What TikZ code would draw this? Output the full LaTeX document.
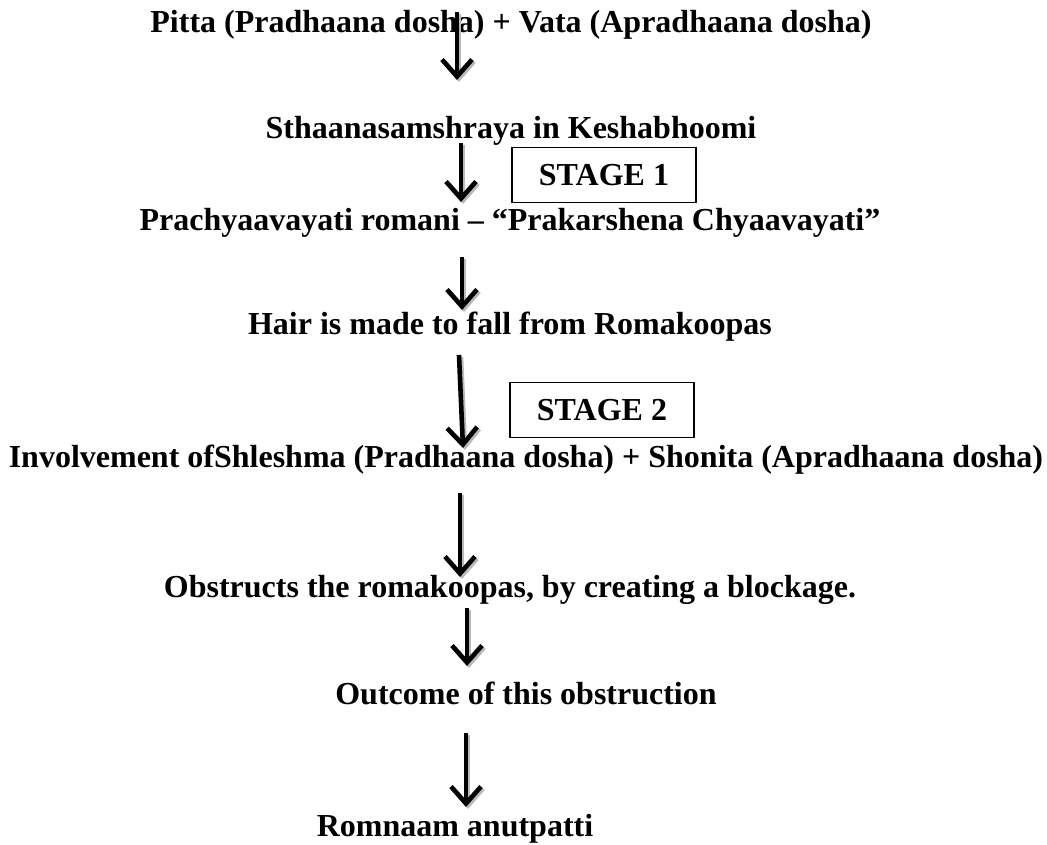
\documentclass[tikz,border=0pt]{standalone}
\usepackage{fontspec}
\setmainfont{Liberation Serif}
\usetikzlibrary{arrows.meta}
\tikzset{
  lbl/.style={font=\fontsize{32}{38}\selectfont\bfseries, inner sep=0pt, anchor=base},
  stagebox/.style={draw, line width=1.6pt, font=\fontsize{32}{38}\selectfont\bfseries, minimum width=184pt, minimum height=55pt, inner sep=0pt},
  arr/.style={line width=4.6pt, -{Straight Barb[length=17pt, width=30pt, line width=4.6pt]}},
  arrshadow/.style={arr, draw=gray!55}
}
\newcommand{\flowarrow}[2]{%
  \draw[arrshadow, transform canvas={xshift=2pt, yshift=-2pt}] (#1) -- (#2);
  \draw[arr] (#1) -- (#2);}
\begin{document}
\begin{tikzpicture}[x=1pt, y=-1pt]
\useasboundingbox (0,0) rectangle (1047,845);
\node[lbl] (n1) at (511,33) {Pitta (Pradhaana dosha) + Vata (Apradhaana dosha)};
\node[lbl] (n2) at (511,139) {Sthaanasamshraya in Keshabhoomi};
\node[stagebox] (s1) at (604,175) {STAGE 1};
\node[lbl] (n3) at (510,231) {Prachyaavayati romani -- “Prakarshena Chyaavayati”};
\node[lbl] (n4) at (510,334) {Hair is made to fall from Romakoopas};
\node[stagebox] (s2) at (602,410) {STAGE 2};
\node[lbl] (n5) at (526,467) {Involvement ofShleshma (Pradhaana dosha) + Shonita (Apradhaana dosha)};
\node[lbl] (n6) at (510,597) {Obstructs the romakoopas, by creating a blockage.};
\node[lbl] (n7) at (526,704) {Outcome of this obstruction};
\node[lbl] (n8) at (455,836) {Romnaam anutpatti};
\coordinate (a1s) at (457,12); \coordinate (a1e) at (457,80);
\coordinate (a2s) at (461,143); \coordinate (a2e) at (461,202);
\coordinate (a3s) at (462,257); \coordinate (a3e) at (462,310);
\coordinate (a4s) at (459,355); \coordinate (a4e) at (463,448);
\coordinate (a5s) at (460,493); \coordinate (a5e) at (460,577);
\coordinate (a6s) at (467,608); \coordinate (a6e) at (467,666);
\coordinate (a7s) at (466,733); \coordinate (a7e) at (466,807);
\flowarrow{a1s}{a1e}
\flowarrow{a2s}{a2e}
\flowarrow{a3s}{a3e}
\flowarrow{a4s}{a4e}
\flowarrow{a5s}{a5e}
\flowarrow{a6s}{a6e}
\flowarrow{a7s}{a7e}
\end{tikzpicture}
\end{document}
